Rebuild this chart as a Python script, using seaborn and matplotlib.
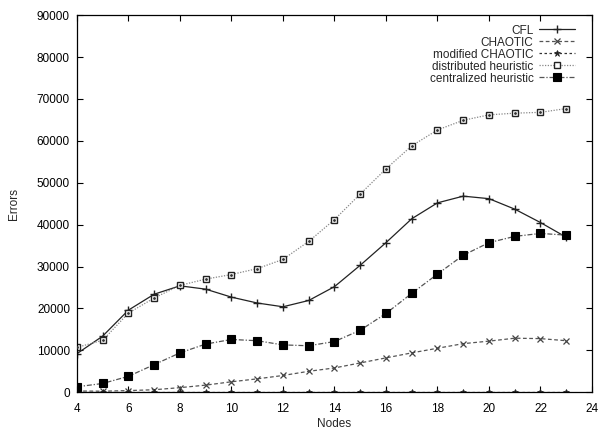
import numpy as np
import pandas as pd
import matplotlib
matplotlib.use("Agg")
import matplotlib.pyplot as plt
import seaborn as sns

nodes = list(range(4, 24))
cfl = [9200, 13400, 19600, 23400, 25400, 24600, 22700, 21300, 20400, 21900,
       25200, 30300, 35700, 41400, 45200, 46800, 46200, 43700, 40500, 37000]
chaotic = [300, 250, 400, 600, 1100, 1700, 2500, 3200, 4000, 5000,
           5800, 7000, 8200, 9400, 10500, 11600, 12200, 12900, 12800, 12300]
mod_chaotic = [100] * 20
distributed = [10700, 12400, 18900, 22500, 25500, 27000, 28100, 29500, 31700, 36000,
               41200, 47300, 53300, 58800, 62600, 64900, 66200, 66600, 66800, 67700]
centralized = [1300, 2100, 3800, 6600, 9400, 11500, 12600, 12300, 11300, 11100,
               12100, 14800, 18800, 23600, 28200, 32700, 35700, 37200, 37900, 37500]
labels = ["CFL", "CHAOTIC", "modified CHAOTIC", "distributed heuristic", "centralized heuristic"]

sns.set_style("ticks")
plt.rcParams['font.family'] = ['Liberation Sans', 'DejaVu Sans']

df = pd.DataFrame({
    "Nodes": nodes * 5,
    "Errors": cfl + chaotic + mod_chaotic + distributed + centralized,
    "series": sum([[l] * 20 for l in labels], []),
})

fig = plt.figure(figsize=(6.01, 4.32), dpi=100)
ax = fig.add_axes([0.128, 0.092, 0.857, 0.873])

styles = {
    "CFL": dict(color="#222222", linestyle="-", marker="+", markersize=6, mfc="#222222", mec="#222222", mew=1.0),
    "CHAOTIC": dict(color="#555555", linestyle=(0, (3, 2)), marker="x", markersize=4, mfc="#555555", mec="#444444", mew=0.9),
    "modified CHAOTIC": dict(color="#333333", linestyle=(0, (2, 2)), marker="*", markersize=5, mfc="#222222", mec="#222222", mew=0.5),
    "distributed heuristic": dict(color="#888888", linestyle=(0, (1, 1.2)), marker="s", markersize=4.6, mfc="white", mec="#222222", mew=1.0),
    "centralized heuristic": dict(color="#555555", linestyle=(0, (4, 1.5, 1, 1.5)), marker="s", markersize=5.2, mfc="black", mec="black", mew=0.8),
}

for lab in labels:
    sub = df[df["series"] == lab]
    st = styles[lab]
    sns.lineplot(data=sub, x="Nodes", y="Errors", ax=ax, label=lab,
                 color=st["color"], linestyle=st["linestyle"], marker=st["marker"],
                 markersize=st["markersize"], markerfacecolor=st["mfc"],
                 markeredgecolor=st["mec"], markeredgewidth=st["mew"], linewidth=0.9)
# small dot inside open squares
sub = df[df["series"] == "distributed heuristic"]
ax.scatter(sub["Nodes"], sub["Errors"], s=1.0, color="#333333", zorder=5)

ax.set_xlim(4, 24)
ax.set_ylim(0, 90000)
ax.set_xticks(range(4, 25, 2))
ax.set_yticks(range(0, 90001, 10000))
ax.tick_params(direction="in", top=True, right=True, labelsize=8.5, length=4, width=0.8, colors="black")
ax.tick_params(axis="x", pad=8)
ax.tick_params(axis="y", pad=5)
for sp in ax.spines.values():
    sp.set_visible(True)
    sp.set_linewidth(0.9)
    sp.set_color("black")
ax.set_xlabel("Nodes", fontsize=8.5, labelpad=2)
ax.set_ylabel("Errors", fontsize=8.5, labelpad=12)

leg = ax.legend(loc="upper right", frameon=False, markerfirst=False, fontsize=8.5,
                handlelength=3.0, labelspacing=0.0, borderaxespad=0.4,
                borderpad=0.4, handletextpad=0.5, bbox_to_anchor=(0.985, 1.0))

fig.savefig("out.png", dpi=100)
